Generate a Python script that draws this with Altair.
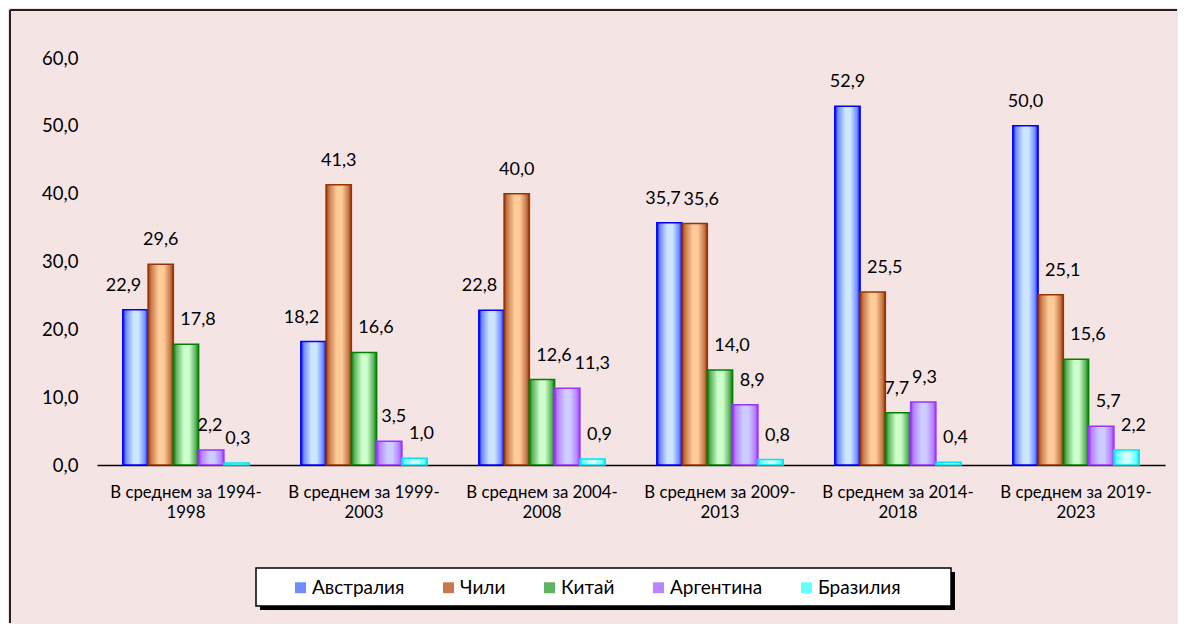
import altair as alt
import pandas as pd

categories = ["В среднем за 1994-1998", "В среднем за 1999-2003", "В среднем за 2004-2008",
              "В среднем за 2009-2013", "В среднем за 2014-2018", "В среднем за 2019-2023"]
series = ["Австралия", "Чили", "Китай", "Аргентина", "Бразилия"]
australia = [22.9, 18.2, 22.8, 35.7, 52.9, 50.0]
chile = [29.6, 41.3, 40.0, 35.6, 25.5, 25.1]
china = [17.8, 16.6, 12.6, 14.0, 7.7, 15.6]
argentina = [2.2, 3.5, 11.3, 8.9, 9.3, 5.7]
brazil = [0.3, 1.0, 0.9, 0.8, 0.4, 2.2]
y_ticks = [0, 10, 20, 30, 40, 50, 60]

dark = ["#0000FF", "#993300", "#008000", "#9933FF", "#00E5F0"]
mid = ["#6F8CFF", "#C8794A", "#5FB25F", "#B884FF", "#66FFFF"]
light = ["#CCE6FF", "#FFCC99", "#CCFFCC", "#CCCCFF", "#CCFFFF"]

BG = "#F5E4E4"
FONT = "Lato"
LABEL_SIZE = 18
LIFT = 24  # px between bar top and label centre

W, H = 1068, 407
Y_MAX = 60
PX = H / Y_MAX                      # px per unit
BW = W / 6 * 0.71 / 5               # bar width in px


def fmt(v):
    return f"{v:.1f}".replace(".", ",")


def text_w(s):
    return sum(0.58 * LABEL_SIZE if ch.isdigit() else 0.22 * LABEL_SIZE for ch in s)


all_vals = [australia, chile, china, argentina, brazil]

# label nudges derived from the values: move a label away from a taller neighbouring bar,
# then separate neighbouring labels that would collide (as in the original chart)
rows = []
for gi, c in enumerate(categories):
    vals = [sv[gi] for sv in all_vals]
    labs = [fmt(v) for v in vals]
    ws = [text_w(l) for l in labs]
    cy = [v * PX + LIFT for v in vals]
    sh, narrow = [], []
    for i, v in enumerate(vals):
        bottom = cy[i] - 9
        lt = i > 0 and vals[i - 1] * PX > bottom
        rt = i < 4 and vals[i + 1] * PX > bottom
        extra = max(0.0, (ws[i] - BW) / 2) + 7
        narrow.append(ws[i] <= BW + 1)
        if lt and not rt:
            sh.append(extra)
        elif rt and not lt:
            sh.append(-extra)
        else:
            sh.append(0.0)
    for i in range(4):
        a_right = i * BW + BW / 2 + sh[i] + ws[i] / 2
        b_left = (i + 1) * BW + BW / 2 + sh[i + 1] - ws[i + 1] / 2
        ov = a_right + 3 - b_left
        if abs(cy[i] - cy[i + 1]) < 18 and ov > 0:
            if sh[i] > 0 and narrow[i]:
                red = min(sh[i], ov)
                sh[i] -= red
                ov -= red
            if ov > 0:
                if sh[i] == 0 and sh[i + 1] == 0:
                    sh[i] -= ov / 2
                    sh[i + 1] += ov / 2
                else:
                    sh[i + 1] += ov
    for i, s in enumerate(series):
        rows.append({"cat": c, "series": s, "value": vals[i], "label": labs[i], "dx": round(sh[i], 1)})
df = pd.DataFrame(rows)

x_enc = alt.X("cat:N", sort=categories, title=None,
              scale=alt.Scale(paddingInner=0.29, paddingOuter=0.145),
              axis=alt.Axis(labelAngle=0, ticks=False, domainColor="#000000", domainWidth=1.5,
                            labelFont=FONT, labelFontSize=16.8, labelColor="#000000",
                            labelLineHeight=20, labelPadding=19, labelLimit=400,
                            labelExpr="[slice(datum.label, 0, indexof(datum.label, '-') + 1), slice(datum.label, indexof(datum.label, '-') + 1)]"))
xo_enc = alt.XOffset("series:N", sort=series,
                     scale=alt.Scale(domain=series, paddingInner=0, paddingOuter=0))
y_axis = alt.Axis(values=y_ticks, grid=False, ticks=False, domain=False,
                  labelFont=FONT, labelFontSize=18.5, labelColor="#000000", labelPadding=19,
                  labelExpr="replace(format(datum.value, '.1f'), '.', ',')")
y_scale = alt.Scale(domain=[0, Y_MAX], nice=False)

base = alt.Chart(df).encode(x=x_enc, xOffset=xo_enc)


def grad(d, m, l):
    return alt.LinearGradient(
        gradient="linear", x1=0, x2=1, y1=0, y2=0,
        stops=[alt.GradientStop(offset=0, color=d),
               alt.GradientStop(offset=0.12, color=m),
               alt.GradientStop(offset=0.42, color=l),
               alt.GradientStop(offset=0.62, color=l),
               alt.GradientStop(offset=0.88, color=m),
               alt.GradientStop(offset=1, color=d)])


bar_layers = []
for i, s in enumerate(series):
    bar_layers.append(
        base.transform_filter(alt.datum.series == s)
        .mark_bar(fill=grad(dark[i], mid[i], light[i]), stroke=dark[i], strokeWidth=1.5)
        .encode(y=alt.Y("value:Q", scale=y_scale, axis=y_axis, title=None))
    )

legend_layer = base.transform_calculate(zero="0").mark_bar().encode(
    y=alt.Y("zero:Q", scale=y_scale, axis=y_axis, title=None),
    color=alt.Color("series:N", sort=series,
                    scale=alt.Scale(domain=series, range=mid),
                    legend=alt.Legend(title=None, orient="none", direction="horizontal",
                                      legendX=194, legendY=520, padding=0,
                                      symbolType="square", symbolSize=120,
                                      labelFont=FONT, labelFontSize=19, labelColor="#000000",
                                      labelOffset=2, columnPadding=34)),
)

text_layer = base.mark_text(font=FONT, fontSize=LABEL_SIZE, color="#000000", baseline="middle",
                            dy=-LIFT, dx=alt.ExprRef(expr="datum.dx")).encode(
    y=alt.Y("value:Q", scale=y_scale, axis=y_axis, title=None),
    text="label:N",
)

one = pd.DataFrame({"a": [0]})
frame_left = alt.Chart(one).mark_rule(color="#222222", strokeWidth=2).encode(
    x=alt.value(-87), y=alt.value(-48), y2=alt.value(565))
frame_top = alt.Chart(one).mark_rule(color="#222222", strokeWidth=2).encode(
    y=alt.value(-48), x=alt.value(-87), x2=alt.value(1080))
shadow = alt.Chart(one).mark_rect(fill="#000000").encode(
    x=alt.value(163), x2=alt.value(858), y=alt.value(514), y2=alt.value(552))
box = alt.Chart(one).mark_rect(fill="#FFFFFF", stroke="#000000", strokeWidth=1.5).encode(
    x=alt.value(159), x2=alt.value(854), y=alt.value(510), y2=alt.value(548))

chart = alt.layer(frame_left, frame_top, shadow, box, *bar_layers, legend_layer, text_layer).properties(
    width=W, height=H, padding={"left": 1, "top": 1, "right": 0, "bottom": 0}
).configure(background=BG).configure_view(strokeWidth=0)

chart.save("out.html", embed_options={"renderer": "svg", "actions": False})
